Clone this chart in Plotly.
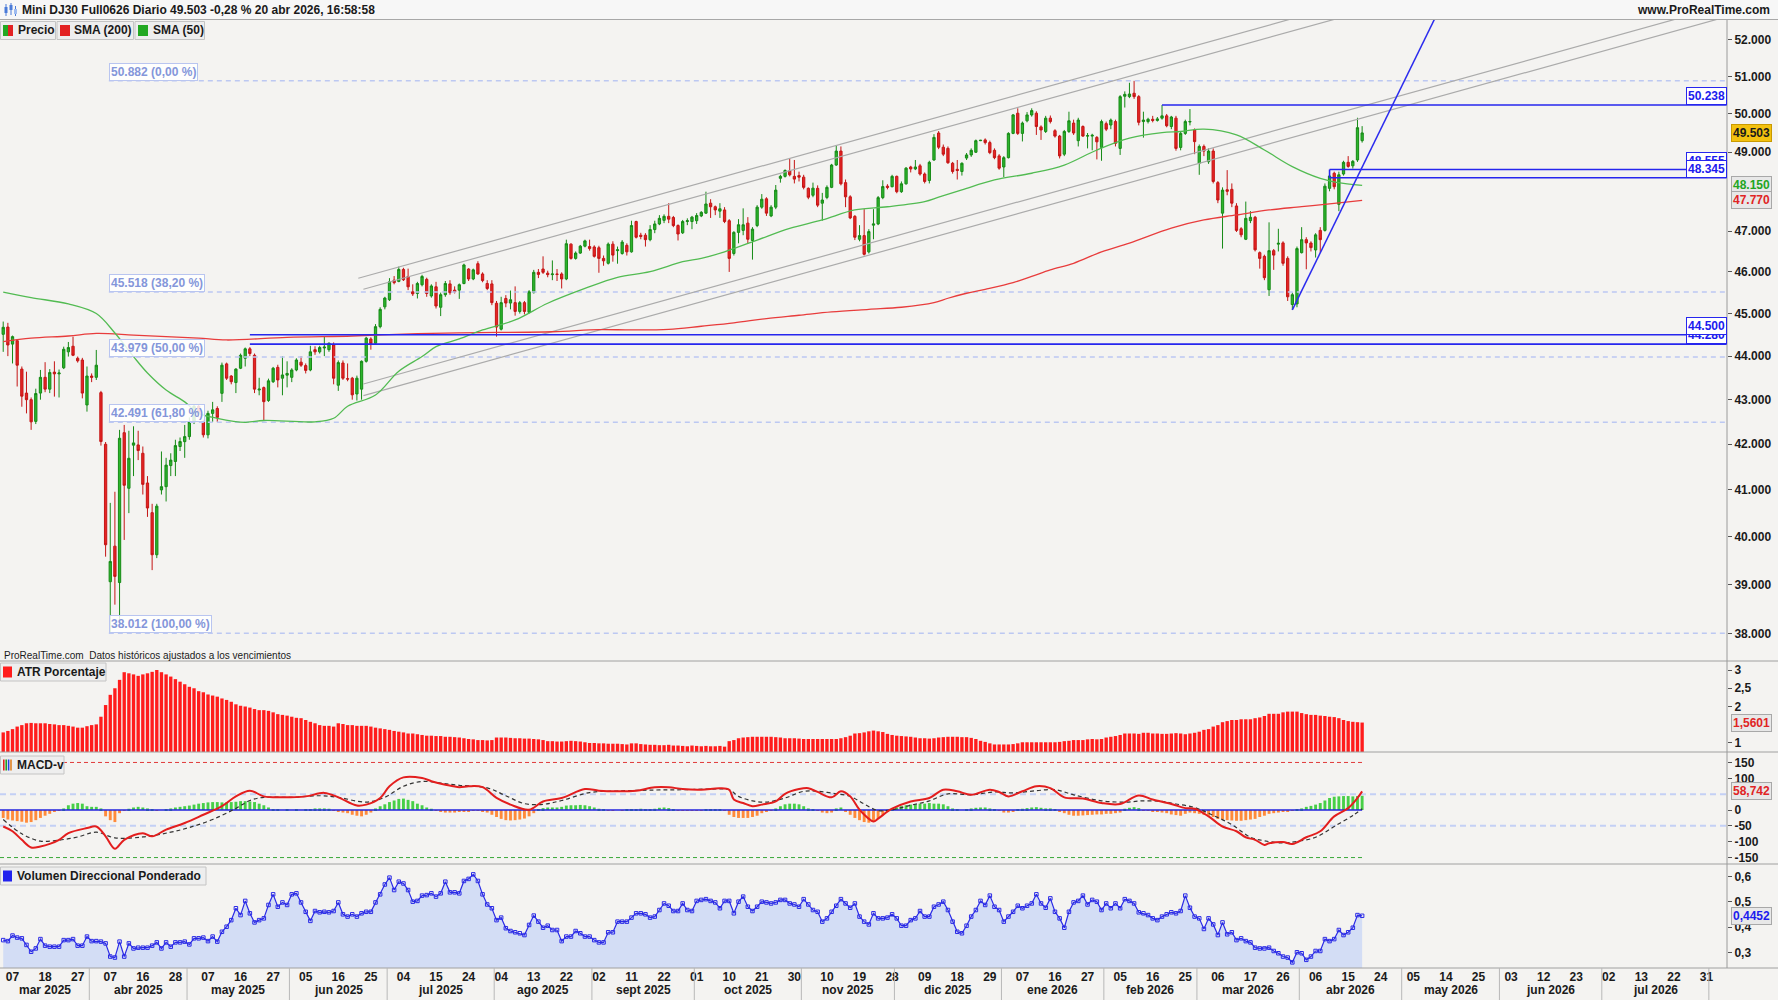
import math
import pandas as pd
import plotly.graph_objects as go

# ------------------------------------------------------------------ calendar
days = pd.bdate_range("2025-03-05", "2026-08-07")
days = days[days != pd.Timestamp("2025-04-18")]
MESES = {1: "ene", 2: "feb", 3: "mar", 4: "abr", 5: "may", 6: "jun", 7: "jul",
         8: "ago", 9: "sept", 10: "oct", 11: "nov", 12: "dic"}

# ------------------------------------------------------------------ candles (open, high, low, close)
mar_2025 = [
    (44510, 44810, 44100, 44675), (44680, 44780, 44000, 44260), (44280, 44480, 43830, 44455),
    (44360, 44400, 43300, 43790), (43700, 43760, 42840, 43080), (43150, 43640, 42690, 43000),
    (43000, 43050, 42320, 42500), (42510, 43250, 42450, 43140), (43150, 43680, 43000, 43510),
    (43510, 43860, 43170, 43240), (43240, 43700, 43150, 43620), (43630, 43880, 43070, 43590),
    (43590, 43690, 43050, 43610), (43730, 44220, 43700, 44160), (44100, 44330, 43990, 44200),
    (44230, 44455, 44000, 44020), (43950, 43990, 43850, 43890), (43910, 43960, 43030, 43150),
    (42880, 43760, 42730, 43540)]
apr_2025 = [
    (43540, 43600, 43400, 43510), (43510, 44144, 43450, 43790), (43160, 43200, 41970, 42060),
    (42000, 42050, 39580, 39830), (39060, 40720, 38012, 39480), (39800, 40960, 38590, 39170),
    (39043, 42320, 38200, 42133), (42257, 42430, 39931, 41100), (41035, 42300, 40500, 41690),
    (41980, 42400, 41300, 42030), (41985, 42300, 41650, 41860), (41800, 41950, 40900, 41120),
    (41150, 41300, 40420, 40610), (40510, 40700, 39300, 39620), (39620, 40700, 39550, 40650),
    (41000, 41840, 40900, 41070), (41070, 41700, 40750, 41540), (41530, 41800, 41300, 41650),
    (41620, 42100, 41300, 41970), (41950, 42150, 41850, 42060), (42058, 42430, 41700, 42170)]
may_2025 = [
    (42170, 42600, 42100, 42500), (42500, 42900, 42450, 42850), (42850, 42900, 42600, 42700),
    (42490, 42550, 42150, 42210), (42210, 42750, 42130, 42690), (42690, 42950, 42500, 42770),
    (42800, 42850, 42500, 42600), (43144, 43850, 42950, 43790), (43820, 43850, 43450, 43490),
    (43540, 43560, 43350, 43410), (43390, 43720, 43150, 43700), (43720, 44060, 43700, 44020),
    (43950, 44200, 43760, 44170), (44170, 44210, 44000, 44060), (44020, 44060, 43150, 43240),
    (43220, 43500, 43100, 43240), (43275, 43300, 42540, 42955), (42980, 43480, 42950, 43430),
    (43410, 43750, 43380, 43720), (43740, 43800, 43280, 43450), (43490, 44000, 43100, 43565),
    (43560, 43880, 43280, 43600)]
jun_2025 = [
    (43510, 43720, 43400, 43680), (43680, 43950, 43650, 43910), (43860, 44000, 43750, 43790),
    (43780, 43830, 43600, 43670), (43680, 44240, 43650, 44100), (44150, 44230, 44030, 44100),
    (44100, 44240, 44060, 44200), (44190, 44460, 44000, 44210), (44150, 44320, 44100, 44300),
    (44260, 44320, 43350, 43490), (43330, 43900, 43200, 43850), (43840, 43900, 43450, 43490),
    (43480, 43830, 43420, 43470), (43490, 43520, 43000, 43110), (43130, 43550, 42980, 43490),
    (43240, 43900, 43000, 43880), (43880, 44450, 43850, 44420), (44400, 44440, 44150, 44290),
    (44300, 44750, 44280, 44690), (44690, 45150, 44650, 45100), (45160, 45400, 45100, 45370)]
jul_2025 = [
    (45330, 45850, 45300, 45760), (45800, 45900, 45700, 45740), (45770, 46130, 45750, 46060),
    (46060, 46100, 45780, 45810), (45890, 46080, 45560, 45640), (45520, 45700, 45420, 45470),
    (45480, 45760, 45360, 45720), (45690, 45930, 45650, 45890), (45820, 45860, 45400, 45480),
    (45420, 45700, 45380, 45660), (45640, 45760, 45120, 45180), (45150, 45500, 44940, 45450),
    (45450, 45780, 45400, 45720), (45710, 45800, 45450, 45500), (45560, 45650, 45480, 45520),
    (45560, 45720, 45350, 45690), (45720, 46200, 45700, 46170), (46070, 46090, 45780, 45830),
    (45830, 46080, 45800, 46050), (46200, 46260, 45930, 45950), (45950, 45990, 45750, 45790),
    (45720, 45800, 45560, 45600), (45710, 45800, 45200, 45260)]
aug_2025 = [
    (45245, 45300, 44455, 44680), (44630, 45400, 44600, 45260), (45360, 45440, 45150, 45250),
    (45250, 45550, 45100, 45330), (45260, 45650, 44950, 45050), (45050, 45300, 45000, 45260),
    (45260, 45300, 44980, 45050), (45030, 45560, 45000, 45520), (45500, 46050, 45480, 45990),
    (45990, 46070, 45850, 45940), (46070, 46380, 45950, 45990), (45970, 46030, 45870, 45935),
    (45935, 46280, 45800, 45950), (45950, 46070, 45780, 45940), (45950, 45990, 45600, 45830),
    (45830, 46790, 45800, 46690), (46680, 46700, 46300, 46330), (46330, 46500, 46300, 46460),
    (46460, 46660, 46440, 46630), (46630, 46790, 46600, 46760), (46620, 46790, 46520, 46570)]
sep_2025 = [
    (46610, 46650, 46350, 46380), (46590, 46640, 45980, 46330), (46330, 46400, 46150, 46270),
    (46210, 46720, 46180, 46680), (46680, 46750, 46250, 46410), (46520, 46620, 46200, 46540),
    (46450, 46780, 46420, 46730), (46650, 46700, 46400, 46490), (46490, 47260, 46470, 47140),
    (47240, 47260, 46820, 46850), (46900, 46960, 46800, 46870), (46900, 46950, 46620, 46790),
    (46790, 47150, 46750, 47040), (47040, 47260, 46950, 47180), (47180, 47400, 47150, 47320),
    (47270, 47420, 47200, 47370), (47370, 47700, 47200, 47300), (47340, 47380, 47100, 47140),
    (47140, 47170, 46770, 46930), (46960, 47280, 46930, 47240), (47240, 47320, 47150, 47260),
    (47240, 47380, 47050, 47350)]
oct_2025 = [
    (47260, 47450, 47180, 47390), (47380, 47500, 47350, 47470), (47450, 47990, 47430, 47680),
    (47700, 47800, 47330, 47610), (47610, 47640, 47400, 47530), (47500, 47700, 47330, 47560),
    (47530, 47600, 47200, 47240), (47260, 47300, 46000, 46330), (46450, 47000, 46400, 46970),
    (46970, 47300, 46700, 47160), (47020, 47570, 46900, 47160), (47200, 47350, 46700, 46800),
    (46770, 47100, 46300, 47050), (47140, 47650, 47100, 47600), (47600, 47930, 47560, 47800),
    (47810, 47850, 47380, 47450), (47380, 47650, 47350, 47600), (47600, 48160, 47550, 48030),
    (48330, 48420, 48220, 48380), (48380, 48560, 48350, 48530), (48520, 48840, 48380, 48420),
    (48380, 48800, 48200, 48310), (48400, 48500, 48250, 48360)]
nov_2025 = [
    (48360, 48420, 48050, 48100), (48075, 48100, 47800, 47850), (47900, 48220, 47850, 48080),
    (48075, 48150, 47600, 47650), (47700, 47960, 47260, 47780), (47845, 48150, 47800, 48100),
    (48100, 48700, 48080, 48670), (48670, 49180, 48650, 49030), (49030, 49150, 48150, 48190),
    (48220, 48300, 47600, 47860), (47860, 47900, 47300, 47330), (47370, 47400, 46780, 46850),
    (46800, 47150, 46750, 46890), (46890, 47550, 46400, 46430), (46490, 47050, 46450, 46990),
    (47150, 47550, 46800, 47180), (47180, 47880, 47150, 47840), (47840, 48280, 47800, 48120),
    (48130, 48180, 48050, 48100), (48117, 48420, 48100, 48380)]
dec_2025 = [
    (48380, 48400, 47950, 47990), (47990, 48250, 47960, 48190), (48190, 48620, 48170, 48590),
    (48620, 48650, 48480, 48570), (48570, 48800, 48540, 48620), (48650, 48700, 48400, 48440),
    (48440, 48480, 48200, 48250), (48275, 48780, 48200, 48740), (48800, 49470, 48780, 49385),
    (49500, 49550, 49080, 49130), (49130, 49200, 48900, 48950), (49100, 49150, 48700, 48730),
    (48715, 48750, 48450, 48505), (48560, 48800, 48300, 48530), (48505, 48740, 48400, 48715),
    (48850, 48980, 48800, 48930), (48930, 49100, 48880, 49050), (49000, 49330, 48980, 49300),
    (49300, 49320, 49290, 49310), (49320, 49360, 49200, 49250), (49250, 49300, 48950, 48990),
    (49050, 49100, 48820, 48860), (48905, 48950, 48550, 48590)]
jan_2026 = [
    (48620, 48900, 48360, 48860), (48860, 49520, 48840, 49490), (49490, 50000, 49470, 49975),
    (50020, 50150, 49450, 49490), (49490, 49800, 49280, 49760), (49820, 50050, 49780, 49975),
    (49975, 50150, 49930, 50090), (50020, 50070, 49450, 49670), (49660, 49700, 49320, 49580),
    (49540, 49950, 49500, 49890), (49890, 49960, 49750, 49800), (49560, 49600, 49380, 49420),
    (49420, 49450, 48840, 48905), (48950, 49580, 48900, 49540), (49540, 50060, 49500, 49820),
    (49760, 49850, 49450, 49500), (49300, 49900, 49150, 49840), (49670, 49700, 49400, 49420),
    (49420, 49500, 49100, 49430), (49420, 49480, 49050, 49440), (49385, 49420, 48815, 49270),
    (49125, 49850, 48780, 49800)]
feb_2026 = [
    (49745, 49800, 49550, 49600), (49710, 49880, 49600, 49840), (49800, 49850, 49150, 49230),
    (49100, 50500, 48930, 50460), (50470, 50600, 50170, 50520), (50460, 50830, 50420, 50530),
    (50550, 50882, 50400, 50460), (50460, 50500, 49700, 49780), (49800, 50060, 49380, 49840),
    (49800, 49900, 49750, 49860), (49860, 49950, 49780, 49830), (49830, 49920, 49800, 49870),
    (49890, 50238, 49850, 49950), (49950, 50000, 49650, 49690), (49670, 49950, 49600, 49920),
    (49890, 49950, 49040, 49100), (49125, 49550, 49050, 49490), (49490, 49850, 49450, 49800),
    (49790, 50130, 49700, 49800), (49580, 49620, 48950, 49275)]
mar_2026 = [
    (48715, 49200, 48420, 49150), (49150, 49200, 48900, 49030), (48755, 49100, 48700, 49030),
    (49030, 49100, 48200, 48250), (48220, 48260, 47700, 47780), (47450, 48100, 46570, 48030),
    (48040, 48540, 47900, 48000), (48050, 48200, 47600, 47700), (47630, 47700, 46980, 47020),
    (47060, 47100, 46850, 46910), (46800, 47740, 46780, 47320), (47262, 47500, 47200, 47346),
    (47346, 47380, 46500, 46540), (46470, 46500, 46080, 46330), (46380, 46420, 45800, 45860),
    (45570, 47220, 45420, 46520), (46520, 46560, 46050, 46410), (46680, 47060, 46500, 46700),
    (46710, 46750, 46150, 46210), (46330, 46380, 45300, 45400), (45215, 45500, 45086, 45450),
    (45230, 46620, 45150, 46570)]
apr_2026 = [
    (46470, 47100, 46450, 46790), (46790, 46850, 46065, 46710), (46707, 46750, 46500, 46594),
    (46536, 46950, 46350, 46909), (47020, 47100, 46470, 46790), (47020, 48200, 46990, 48130),
    (48075, 48420, 48000, 48390), (48460, 48500, 48050, 48117), (47670, 48500, 47500, 48420),
    (48440, 48780, 48400, 48740), (48740, 48900, 48600, 48635), (48650, 48800, 48580, 48765),
    (48800, 49900, 48750, 49640), (49300, 49680, 49250, 49503)]

candles = (mar_2025 + apr_2025 + may_2025 + jun_2025 + jul_2025 + aug_2025 + sep_2025 +
           oct_2025 + nov_2025 + dec_2025 + jan_2026 + feb_2026 + mar_2026 + apr_2026)
opens = [c[0] for c in candles]
highs = [c[1] for c in candles]
lows = [c[2] for c in candles]
closes = [c[3] for c in candles]
xi = list(range(len(candles)))

# ------------------------------------------------------------------ moving averages (day index, value)
sma200_day = [0, 6, 14, 20, 28, 35, 42, 48, 61, 75, 86, 98, 118, 128, 135, 143, 150, 157, 164,
              171, 178, 186, 193, 200, 203, 207, 211, 217, 221, 225, 230, 236, 242, 251, 258,
              265, 272, 279, 286, 292]
sma200_val = [44340, 44420, 44470, 44530, 44490, 44455, 44420, 44377, 44440, 44470, 44515,
              44545, 44570, 44620, 44612, 44625, 44700, 44780, 44880, 44960, 45040, 45100,
              45150, 45260, 45365, 45485, 45580, 45740, 45890, 46048, 46210, 46490, 46707,
              47077, 47279, 47404, 47529, 47612, 47696, 47770]
sma50_day = [0, 6, 14, 20, 24, 28, 31, 35, 39, 42, 46, 52, 56, 67, 71, 74, 80, 85, 90, 93, 98,
             103, 110, 117, 125, 132, 139, 146, 150, 155, 162, 169, 176, 183, 190, 198, 201,
             206, 213, 221, 228, 235, 242, 249, 253, 258, 265, 271, 277, 283, 288, 292]
sma50_val = [45510, 45380, 45230, 45000, 44540, 43990, 43610, 43220, 42950, 42690, 42580,
             42490, 42530, 42500, 42580, 42850, 43106, 43650, 43990, 44220, 44400, 44612,
             44848, 45245, 45600, 45870, 46006, 46250, 46330, 46490, 46780, 47070, 47280,
             47530, 47610, 47740, 47850, 48034, 48288, 48460, 48670, 49058, 49365, 49510,
             49540, 49600, 49450, 49058, 48630, 48330, 48200, 48150]

# ------------------------------------------------------------------ drawings
fib_levels = [50882, 45518, 43979, 42491, 38012]
fib_pcts = ["0,00", "38,20", "50,00", "61,80", "100,00"]
fib_start_day = 22.7

chan_start_day = [76.3, 77.4, 77.4, 77.4]
chan_start_price = [45846, 45581, 43358, 43091]
chan_end_day = 370.4
chan_end_price = [56045, 55679, 52964, 52638]

hline_levels = [50238, 48555, 48345, 44500, 44280]
hline_start_day = [249, 285, 285, 53, 53]

trend_day = [277, 310.9]
trend_price = [45086, 53459]

# ------------------------------------------------------------------ indicators
atr_pct = [
    1.29, 1.33, 1.38, 1.45, 1.49, 1.54, 1.55, 1.54, 1.54, 1.54, 1.52, 1.51, 1.49, 1.49, 1.47,
    1.45, 1.42, 1.42, 1.46, 1.49, 1.51, 1.72, 2.04, 2.32, 2.50, 2.73, 2.94, 2.91, 2.88, 2.84,
    2.88, 2.91, 2.95, 3.00, 2.94, 2.88, 2.82, 2.75, 2.68, 2.61, 2.54, 2.50, 2.42, 2.39, 2.33,
    2.30, 2.27, 2.22, 2.18, 2.13, 2.06, 2.02, 2.00, 1.97, 1.93, 1.90, 1.90, 1.88, 1.84, 1.79,
    1.77, 1.75, 1.72, 1.69, 1.68, 1.63, 1.58, 1.54, 1.49, 1.47, 1.47, 1.45, 1.54, 1.52, 1.49,
    1.49, 1.47, 1.47, 1.47, 1.45, 1.42, 1.40, 1.38, 1.36, 1.33, 1.31, 1.29, 1.26, 1.26, 1.24,
    1.22, 1.20, 1.20, 1.19, 1.19, 1.17, 1.17, 1.16, 1.15, 1.13, 1.11, 1.10, 1.08, 1.08, 1.07,
    1.08, 1.15, 1.15, 1.15, 1.14, 1.13, 1.13, 1.12, 1.12, 1.11, 1.10, 1.08, 1.05, 1.05, 1.04,
    1.04, 1.05, 1.06, 1.05, 1.04, 1.02, 1.00, 1.00, 0.99, 0.99, 0.98, 0.98, 0.98, 0.97, 0.96,
    0.99, 0.99, 0.97, 0.96, 0.95, 0.95, 0.94, 0.94, 0.95, 0.93, 0.93, 0.92, 0.91,
    0.93, 0.92, 0.91, 0.92, 0.91, 0.91, 0.92, 0.90, 1.05, 1.08, 1.13, 1.15, 1.16, 1.17, 1.17,
    1.17, 1.17, 1.17, 1.16, 1.15, 1.13, 1.13, 1.13, 1.12, 1.11, 1.11, 1.11, 1.11, 1.11, 1.11,
    1.11, 1.11, 1.13, 1.16, 1.20, 1.26, 1.27, 1.29, 1.32, 1.34, 1.32, 1.30, 1.25, 1.22, 1.20,
    1.19, 1.18, 1.17, 1.15, 1.13, 1.13, 1.12, 1.13, 1.15, 1.16, 1.17, 1.17, 1.17, 1.16, 1.16,
    1.14, 1.11, 1.06, 1.03, 0.99, 0.96, 0.96, 0.96, 0.96, 0.97, 0.99, 1.02, 1.02, 1.02, 1.02,
    1.02, 1.02, 1.02, 1.02, 1.03, 1.05, 1.06, 1.08, 1.08, 1.08, 1.10, 1.11, 1.10, 1.11, 1.15,
    1.17, 1.19, 1.22, 1.26, 1.26, 1.26, 1.25, 1.28, 1.28, 1.26, 1.26, 1.25, 1.25, 1.26, 1.27,
    1.26, 1.24, 1.26, 1.28, 1.31, 1.36, 1.38, 1.45, 1.49, 1.57, 1.60, 1.63, 1.63, 1.65, 1.65,
    1.65, 1.68, 1.70, 1.74, 1.80, 1.80, 1.80, 1.84, 1.86, 1.86, 1.86, 1.82, 1.79, 1.77, 1.77,
    1.75, 1.74, 1.72, 1.71, 1.68, 1.63, 1.60, 1.58, 1.57, 1.5601]

macd_hist = [
    -25, -30, -33, -35, -37, -40, -38, -32, -25, -18, -12, -6, -2, 5, 15, 20, 22, 20, 12, 10,
    10, 5, -20, -32, -38, -10, -3, 4, 8, 10, 8, 5, 1, -2, 0, 3, 5, 8, 10, 12,
    14, 17, 20, 22, 24, 25, 25, 24, 24, 25, 26, 28, 28, 27, 25, 20, 15, 8, 3, 1,
    0, 2, 0, 1, 0, 1, 3, 5, 5, 5, 4, -3, -5, -8, -10, -15, -18, -20, -15, -8,
    5, 12, 18, 25, 30, 35, 36, 32, 28, 20, 15, 8, 4, -3, -5, -8, -8, -8, -6, -5,
    -4, -3, -2, -4, -8, -15, -22, -28, -32, -33, -32, -30, -27, -20, -10, 3, 6, 8, 8, 8,
    10, 14, 15, 15, 16, 15, 12, 8, 4, 1, -2, -1, 0, -2, 1, 2, 3, 4, 3, 2,
    4, 7, 8, 6, 3, -2, -2, -2, -2, -1, -1, 1, 3, 3, 1, -3, -15, -22, -25, -25,
    -25, -22, -18, -10, -5, -2, 5, 12, 18, 20, 20, 18, 12, 5, 1, -3, -8, -10, -8, 5,
    8, -5, -15, -25, -32, -38, -40, -35, -25, -15, -5, 3, 8, 12, 15, 17, 18, 20, 20, 22,
    20, 20, 18, 12, 5, 2, 0, 2, 5, 7, 8, 8, 5, 2, -3, -8, -8, -5, 2, 4,
    6, 8, 9, 7, 5, 5, 3, -5, -10, -15, -18, -18, -17, -16, -15, -14, -14, -12, -12, -10,
    -8, 4, 7, 9, 6, -2, -3, -4, -6, -8, -10, -14, -16, -18, -12, -8, -10, -12, -15, -18,
    -22, -28, -30, -32, -33, -34, -34, -32, -30, -28, -22, -18, -12, -10, -8, -6, -5, -3, 2, 5,
    10, 13, 17, 22, 30, 38, 42, 43, 44, 44, 43, 44, 45]

macd_day = [0, 2, 4, 6, 8, 10, 12, 14, 18, 20, 22, 24, 26, 30, 32, 35, 39, 43, 47, 50, 53, 56,
            60, 65, 69, 72, 76, 78, 81, 83, 86, 90, 92, 95, 98, 100, 103, 106, 109, 113, 116,
            120, 125, 128, 132, 136, 140, 143, 146, 150, 154, 156, 157, 159, 161, 163, 166,
            168, 171, 173, 175, 178, 180, 182, 184, 187, 188, 191, 195, 199, 202, 205, 208,
            212, 214, 216, 219, 222, 225, 228, 232, 236, 240, 244, 247, 251, 254, 256, 259,
            262, 265, 267, 269, 271, 272, 275, 277, 280, 283, 286, 289, 291, 292]
macd_val = [-52, -67, -94, -118, -115, -107, -94, -73, -57, -52, -83, -122, -94, -73, -83, -62,
            -41, -15, 12, 43, 61, 43, 40, 43, 54, 40, 14, 17, 38, 75, 103, 101, 91, 80, 72, 75,
            72, 38, 17, 1, 27, 38, 66, 61, 59, 61, 72, 72, 66, 64, 69, 64, 33, 22, 12, 17, 27,
            51, 66, 69, 57, 40, 59, 43, 1, -36, -27, 4, 27, 38, 64, 59, 48, 64, 57, 43, 59, 75,
            69, 40, 36, 22, 19, 46, 33, 19, 6, 4, -20, -52, -67, -86, -94, -110, -105, -101,
            -107, -86, -67, -20, 6, 38, 58.742]
signal_day = [0, 4, 8, 12, 16, 20, 24, 30, 36, 40, 45, 50, 53, 56, 62, 68, 72, 78, 82, 86, 90,
              94, 98, 104, 108, 112, 116, 120, 126, 132, 140, 146, 152, 156, 158, 161, 164,
              168, 172, 175, 179, 182, 185, 188, 191, 195, 199, 203, 208, 213, 217, 222, 226,
              230, 236, 241, 245, 249, 252, 256, 260, 264, 268, 271, 275, 278, 282, 286, 290,
              292]
signal_val = [-30, -75, -98, -95, -85, -70, -88, -85, -70, -55, -30, 5, 30, 40, 40, 45, 40, 25,
              40, 75, 90, 85, 78, 70, 45, 20, 18, 30, 55, 60, 63, 64, 66, 64, 43, 29, 25, 38,
              59, 59, 51, 43, 19, -2, 1, 15, 29, 51, 48, 57, 54, 61, 64, 48, 29, 25, 29, 27,
              19, 8, -17, -46, -86, -97, -104, -99, -86, -52, -17, 4]

vol_dir = [
    0.349, 0.345, 0.367, 0.359, 0.356, 0.330, 0.303, 0.316, 0.353, 0.327,
    0.323, 0.323, 0.323, 0.349, 0.349, 0.353, 0.327, 0.327, 0.363, 0.345,
    0.345, 0.343, 0.336, 0.284, 0.280, 0.343, 0.284, 0.336, 0.316, 0.319,
    0.319, 0.319, 0.327, 0.340, 0.316, 0.340, 0.323, 0.340, 0.340, 0.343,
    0.332, 0.356, 0.356, 0.359, 0.345, 0.363, 0.343, 0.382, 0.402, 0.428,
    0.475, 0.448, 0.504, 0.455, 0.419, 0.428, 0.435, 0.488, 0.530, 0.481,
    0.498, 0.488, 0.530, 0.534, 0.498, 0.461, 0.425, 0.464, 0.459, 0.461,
    0.459, 0.464, 0.498, 0.451, 0.442, 0.451, 0.442, 0.455, 0.461, 0.461,
    0.498, 0.530, 0.569, 0.596, 0.547, 0.580, 0.573, 0.547, 0.501, 0.504,
    0.525, 0.527, 0.534, 0.521, 0.534, 0.580, 0.538, 0.538, 0.534, 0.583,
    0.591, 0.609, 0.583, 0.530, 0.490, 0.475, 0.428, 0.438, 0.396, 0.385,
    0.380, 0.376, 0.369, 0.409, 0.446, 0.422, 0.398, 0.406, 0.389, 0.389,
    0.345, 0.363, 0.363, 0.385, 0.376, 0.363, 0.363, 0.349, 0.340, 0.340,
    0.380, 0.380, 0.422, 0.422, 0.422, 0.438, 0.455, 0.455, 0.451, 0.438,
    0.442, 0.468, 0.494, 0.485, 0.464, 0.464, 0.494, 0.468,
    0.464, 0.504, 0.508, 0.511, 0.504, 0.498, 0.475, 0.504, 0.504, 0.455,
    0.501, 0.521, 0.481, 0.464, 0.481, 0.501, 0.498, 0.494, 0.498, 0.508,
    0.508, 0.494, 0.490, 0.481, 0.511, 0.490, 0.468, 0.461, 0.422, 0.435,
    0.461, 0.485, 0.511, 0.494, 0.477, 0.494, 0.442, 0.422, 0.411, 0.455,
    0.435, 0.435, 0.438, 0.451, 0.435, 0.406, 0.406, 0.428, 0.435, 0.464,
    0.442, 0.442, 0.481, 0.490, 0.501, 0.468, 0.422, 0.382, 0.376, 0.406,
    0.442, 0.468, 0.504, 0.488, 0.525, 0.481, 0.468, 0.422, 0.442, 0.461,
    0.485, 0.475, 0.485, 0.494, 0.530, 0.494, 0.477, 0.514, 0.461, 0.435,
    0.398, 0.461, 0.498, 0.504, 0.525, 0.490, 0.508, 0.501, 0.468, 0.494,
    0.475, 0.494, 0.475, 0.511, 0.504, 0.494, 0.459, 0.455, 0.448, 0.435,
    0.428, 0.442, 0.451, 0.459, 0.455, 0.464, 0.525, 0.477, 0.442, 0.435,
    0.393, 0.435, 0.411, 0.369, 0.419, 0.372, 0.380, 0.349, 0.356, 0.345,
    0.340, 0.319, 0.316, 0.316, 0.319, 0.306, 0.297, 0.284, 0.280, 0.261,
    0.301, 0.297, 0.271, 0.284, 0.306, 0.306, 0.353, 0.345, 0.353, 0.389,
    0.369, 0.380, 0.398, 0.448, 0.4452]

# ------------------------------------------------------------------ geometry helpers (pixels)
PLOT_R, PLOT_T, PLOT_B = 1727.0, 20.0, 968.0
X_MIN, X_MAX = -0.69, 370.4


def px_x(px):
    return px / PLOT_R


def px_y(py):
    return (PLOT_B - py) / (PLOT_B - PLOT_T)


FONT = "Liberation Sans, Arial, sans-serif"
TXT = "#1a1a1a"
BG = "#f4f3f1"

dom_price = [px_y(661), 1.0]
dom_atr = [px_y(752), px_y(661)]
dom_macd = [px_y(864), px_y(752)]
dom_vol = [0.0, px_y(864)]

fig = go.Figure()

# ---- price panel
fig.add_trace(go.Candlestick(
    x=xi, open=opens, high=highs, low=lows, close=closes,
    increasing=dict(line=dict(color="#168a16", width=1), fillcolor="#2cb52c"),
    decreasing=dict(line=dict(color="#c41515", width=1), fillcolor="#e62424"),
    whiskerwidth=0, hoverinfo="skip", showlegend=False, xaxis="x", yaxis="y"))

for lv in fib_levels:
    fig.add_trace(go.Scatter(x=[fib_start_day, X_MAX], y=[lv, lv], mode="lines",
                             line=dict(color="#bcc8f2", width=1.5, dash="5px,4px"),
                             hoverinfo="skip", showlegend=False, yaxis="y"))

for k in range(len(chan_start_day)):
    fig.add_trace(go.Scatter(x=[chan_start_day[k], chan_end_day],
                             y=[chan_start_price[k], chan_end_price[k]], mode="lines",
                             line=dict(color="#ababab", width=1.2),
                             hoverinfo="skip", showlegend=False, yaxis="y"))

fig.add_trace(go.Scatter(x=sma200_day, y=sma200_val, mode="lines", line_shape="spline",
                         line=dict(color="#e83c3c", width=1.3),
                         hoverinfo="skip", showlegend=False, yaxis="y"))
fig.add_trace(go.Scatter(x=sma50_day, y=sma50_val, mode="lines", line_shape="spline",
                         line=dict(color="#52bb52", width=1.3),
                         hoverinfo="skip", showlegend=False, yaxis="y"))

for lv, d0 in zip(hline_levels, hline_start_day):
    fig.add_trace(go.Scatter(x=[d0, X_MAX], y=[lv, lv], mode="lines",
                             line=dict(color="#2626ee", width=1.6),
                             hoverinfo="skip", showlegend=False, yaxis="y"))
fig.add_trace(go.Scatter(x=[285, 285], y=[48555, 48345], mode="lines",
                         line=dict(color="#2626ee", width=1.6),
                         hoverinfo="skip", showlegend=False, yaxis="y"))
fig.add_trace(go.Scatter(x=trend_day, y=trend_price, mode="lines",
                         line=dict(color="#2b2bee", width=1.5),
                         hoverinfo="skip", showlegend=False, yaxis="y"))

# ---- ATR panel
fig.add_trace(go.Bar(x=xi, y=atr_pct, width=0.72, marker=dict(color="#ff1c1c", line=dict(width=0)),
                     hoverinfo="skip", showlegend=False, yaxis="y2"))

# ---- MACD panel
fig.add_trace(go.Scatter(x=[X_MIN, X_MAX], y=[50, 50], mode="lines",
                         line=dict(color="#c3d0f5", width=2, dash="6px,4px"),
                         hoverinfo="skip", showlegend=False, yaxis="y3"))
fig.add_trace(go.Scatter(x=[X_MIN, X_MAX], y=[-50, -50], mode="lines",
                         line=dict(color="#c3d0f5", width=2, dash="6px,4px"),
                         hoverinfo="skip", showlegend=False, yaxis="y3"))
fig.add_trace(go.Scatter(x=[X_MIN, 292], y=[150, 150], mode="lines",
                         line=dict(color="#e03a3a", width=1, dash="4px,3px"),
                         hoverinfo="skip", showlegend=False, yaxis="y3"))
fig.add_trace(go.Scatter(x=[X_MIN, 292], y=[-150, -150], mode="lines",
                         line=dict(color="#3aa83a", width=1, dash="4px,3px"),
                         hoverinfo="skip", showlegend=False, yaxis="y3"))
fig.add_trace(go.Bar(x=xi, y=macd_hist, width=0.62,
                     marker=dict(color=["#47cf47" if v >= 0 else "#ff8a3a" for v in macd_hist],
                                 line=dict(width=0)),
                     hoverinfo="skip", showlegend=False, yaxis="y3"))
fig.add_trace(go.Scatter(x=[X_MIN, 292], y=[0, 0], mode="lines",
                         line=dict(color="#2323dd", width=1.3),
                         hoverinfo="skip", showlegend=False, yaxis="y3"))
fig.add_trace(go.Scatter(x=signal_day, y=signal_val, mode="lines", line_shape="spline",
                         line=dict(color="#333333", width=1.2, dash="4px,3px"),
                         hoverinfo="skip", showlegend=False, yaxis="y3"))
fig.add_trace(go.Scatter(x=macd_day, y=macd_val, mode="lines", line_shape="spline",
                         line=dict(color="#e31e1e", width=2),
                         hoverinfo="skip", showlegend=False, yaxis="y3"))

# ---- volume panel
fig.add_trace(go.Scatter(x=xi, y=vol_dir, mode="lines+markers",
                         line=dict(color="#2a2ae6", width=1.2),
                         marker=dict(symbol="square-open", size=3.5, color="#2a2ae6",
                                     line=dict(width=1)),
                         fill="tozeroy", fillcolor="#d3ddf5",
                         hoverinfo="skip", showlegend=False, yaxis="y4"))

# ------------------------------------------------------------------ axes
tick_idx = list(range(2, 367, 7))
tick_txt = [f"{days[i].day:02d}" for i in tick_idx]

price_ticks = [v for v in range(38000, 53000, 1000) if v != 48000]
axis_common = dict(showgrid=False, zeroline=False, showline=False, ticks="outside", ticklen=4,
                   tickcolor="#555", side="right", anchor="x", fixedrange=True,
                   tickfont=dict(family=FONT, size=12, color=TXT, weight="bold"))

fig.update_layout(
    width=1778, height=1000, autosize=False,
    margin=dict(l=0, r=1778 - PLOT_R, t=PLOT_T, b=1000 - PLOT_B),
    paper_bgcolor=BG, plot_bgcolor=BG, showlegend=False, hovermode=False,
    font=dict(family=FONT, size=12, color=TXT),
    xaxis=dict(domain=[0, 1], anchor="y4", range=[X_MIN, X_MAX], tickmode="array",
               tickvals=tick_idx, ticktext=tick_txt, showgrid=False, zeroline=False,
               showline=False, ticks="", fixedrange=True,
               rangeslider=dict(visible=False),
               tickfont=dict(family=FONT, size=12, color=TXT, weight="bold")),
    yaxis=dict(domain=dom_price, type="log",
               range=[math.log10(37459), math.log10(52543)],
               tickmode="array", tickvals=price_ticks,
               ticktext=[f"{v:,}".replace(",", ".") for v in price_ticks], **axis_common),
    yaxis2=dict(domain=dom_atr, range=[0.753, 3.247], tickmode="array",
                tickvals=[1, 2, 2.5, 3], ticktext=["1", "2", "2,5", "3"], **axis_common),
    yaxis3=dict(domain=dom_macd, range=[-170.3, 183], tickmode="array",
                tickvals=[-150, -100, -50, 0, 100, 150],
                ticktext=["-150", "-100", "-50", "0", "100", "150"], **axis_common),
    yaxis4=dict(domain=dom_vol, range=[0.2387, 0.650], tickmode="array",
                tickvals=[0.3, 0.4, 0.5, 0.6], ticktext=["0,3", "0,4", "0,5", "0,6"],
                **axis_common),
)

# ------------------------------------------------------------------ shapes
shapes = []


def prect(x0, y0, x1, y1, fill, line="rgba(0,0,0,0)", lw=1):
    shapes.append(dict(type="rect", xref="paper", yref="paper", x0=px_x(x0), x1=px_x(x1),
                       y0=px_y(y1), y1=px_y(y0), fillcolor=fill,
                       line=dict(color=line, width=lw), layer="above"))


def pline(x0, y0, x1, y1, color, lw=1):
    shapes.append(dict(type="line", xref="paper", yref="paper", x0=px_x(x0), x1=px_x(x1),
                       y0=px_y(y0), y1=px_y(y1), line=dict(color=color, width=lw),
                       layer="above"))


# header bar
prect(0, 0, 1778, 19, "#f7f7f7")
pline(0, 19.5, 1778, 19.5, "#a8a8a8")
# header icon (small candles)
pline(6, 4, 6, 16, "#4a7bd8", 1)
prect(4.5, 7, 7.5, 13, "#4a7bd8")
pline(11, 3, 11, 15, "#4a7bd8", 1)
prect(9.5, 5, 12.5, 10, "#4a7bd8")
pline(15.5, 6, 15.5, 16, "#4a7bd8", 1)
prect(14, 9, 17, 14, "#9fbcf0")
# panel dividers and axis line
for yy in (661, 752, 864, 968):
    pline(0, yy, 1778, yy, "#a0a0a0")
pline(PLOT_R, 20, PLOT_R, 968, "#9a9a9a")

# legend boxes (price panel)
prect(0.5, 21.5, 55.5, 39.5, "#eeeeee", "#c4c4c4")
prect(57, 21.5, 133.5, 39.5, "#eeeeee", "#c4c4c4")
prect(135, 21.5, 204.5, 39.5, "#eeeeee", "#c4c4c4")
prect(3, 25, 8, 36, "#22a822")
prect(8, 25, 13, 36, "#e32222")
prect(60, 25, 70, 36, "#e32222")
prect(138, 25, 148, 36, "#22a822")
# indicator title boxes
prect(0.5, 663, 106, 681, "#eeeeee", "#c4c4c4")
prect(3, 666.5, 12, 677.5, "#ff1c1c")
prect(0.5, 756, 64, 774, "#eeeeee", "#c4c4c4")
for k, col in enumerate(["#e02020", "#20a020", "#2040e0", "#e08020"]):
    prect(3 + 2.4 * k, 759.5, 4.6 + 2.4 * k, 770.5, col)
prect(0.5, 867, 206, 885, "#eeeeee", "#c4c4c4")
prect(3, 870.5, 12, 881.5, "#2222ee")

# month separators in the date strip
month_groups = {}
for i, d in enumerate(days):
    if i > X_MAX:
        break
    month_groups.setdefault((d.year, d.month), []).append(i)
mkeys = list(month_groups.keys())
for k, key in enumerate(mkeys[:-1]):
    b = month_groups[key][-1] + 0.5
    if X_MIN < b < X_MAX:
        shapes.append(dict(type="line", xref="x", yref="paper", x0=b, x1=b,
                           y0=px_y(968), y1=px_y(1000), line=dict(color="#b8b8b8", width=1)))

fig.update_layout(shapes=shapes)

# ------------------------------------------------------------------ annotations
ann = []


def ptext(x, y, text, size=12, color=TXT, xanchor="left", bold=True, **kw):
    t = f"<b>{text}</b>" if bold else text
    ann.append(dict(xref="paper", yref="paper", x=px_x(x), y=px_y(y), text=t, showarrow=False,
                    xanchor=xanchor, yanchor="middle",
                    font=dict(family=FONT, size=size, color=color), **kw))


ptext(20, 10, "Mini DJ30 Full0626 Diario 49.503 -0,28 % 20 abr 2026, 16:58:58")
ptext(1772, 10, "www.ProRealTime.com", xanchor="right")
ptext(16, 30.5, "Precio")
ptext(72, 30.5, "SMA (200)")
ptext(151, 30.5, "SMA (50)")
ptext(2, 655, "ProRealTime.com  Datos históricos ajustados a los vencimientos", size=10,
      bold=False)
ptext(15, 672, "ATR Porcentaje")
ptext(15, 765, "MACD-v")
ptext(15, 876, "Volumen Direccional Ponderado")

# month names
for key, idxs in month_groups.items():
    a = max(idxs[0] - 0.5, X_MIN)
    b = min(idxs[-1] + 0.5, X_MAX)
    if b - a < 6:
        continue
    ann.append(dict(xref="x", yref="paper", x=(a + b) / 2, y=px_y(990),
                    text=f"<b>{MESES[key[1]]} {key[0]}</b>", showarrow=False,
                    xanchor="center", yanchor="middle",
                    font=dict(family=FONT, size=12, color=TXT)))

# fibonacci labels
for lv, pc in zip(fib_levels, fib_pcts):
    ann.append(dict(xref="x", yref="y", x=fib_start_day, y=math.log10(lv),
                    text=f"<b>{f'{lv:,}'.replace(',', '.')} ({pc} %)</b>", showarrow=False,
                    xanchor="left", yanchor="bottom", bgcolor="rgba(255,255,255,0.85)",
                    bordercolor="#b9c5f0", borderwidth=1, borderpad=1,
                    font=dict(family=FONT, size=12, color="#8496da")))

# horizontal line labels (inside plot, right edge)
for lv in [50238, 48555, 48345, 44280, 44500]:
    ann.append(dict(xref="paper", yref="y", x=1.0, y=math.log10(lv),
                    text=f"<b>{f'{lv:,}'.replace(',', '.')}</b>", showarrow=False,
                    xanchor="right", yanchor="bottom", bgcolor="#ffffff",
                    bordercolor="#2626ee", borderwidth=1, borderpad=1,
                    font=dict(family=FONT, size=12, color="#1c1cee")))


# value tags on the axes
def tag(yref, yv, text, color, bg="#e8e8e8", border="#a8a8a8"):
    ann.append(dict(xref="paper", yref=yref, x=px_x(1731), y=yv, text=f"<b>{text}</b>",
                    showarrow=False, xanchor="left", yanchor="middle", bgcolor=bg,
                    bordercolor=border, borderwidth=1, borderpad=1,
                    font=dict(family=FONT, size=12, color=color)))


tag("y", math.log10(closes[-1]), f"{closes[-1]:,}".replace(",", "."), "#1a1a1a",
    bg="#f3c10f", border="#c99a00")
tag("y", math.log10(sma50_val[-1]), f"{sma50_val[-1]:,}".replace(",", "."), "#22a522")
tag("y", math.log10(sma200_val[-1]), f"{sma200_val[-1]:,}".replace(",", "."), "#e02424")
tag("y2", atr_pct[-1], f"{atr_pct[-1]:.4f}".replace(".", ","), "#e02424")
tag("y3", macd_val[-1], f"{macd_val[-1]:.3f}".replace(".", ","), "#e02424")
tag("y4", vol_dir[-1], f"{vol_dir[-1]:.4f}".replace(".", ","), "#1c1cee")

fig.update_layout(annotations=ann)

fig.write_html("out.html", config={"displayModeBar": False},
               post_script="document.body.style.margin='0px';document.body.style.padding='0px';")
